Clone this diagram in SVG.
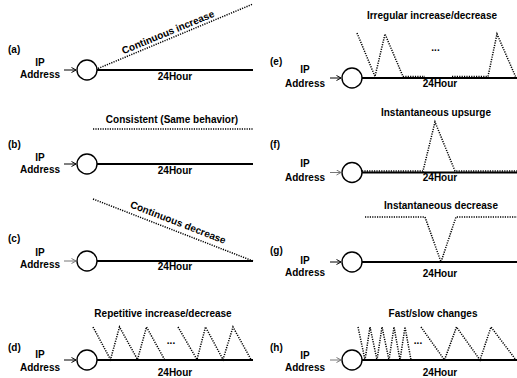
<svg xmlns="http://www.w3.org/2000/svg" width="517" height="378" viewBox="0 0 517 378">
<defs>
<style>
text{font-family:"Liberation Sans",Arial,sans-serif;font-weight:bold;font-size:10px;fill:#000}
.m{text-anchor:middle}
.node{fill:#fff;stroke:#000;stroke-width:1.4}
.tl{stroke:#000;stroke-width:1.8;fill:none}
.dot{stroke:#000;stroke-width:1.5;stroke-dasharray:1.2 1.2;fill:none}
.ar{stroke:#000;stroke-width:1;fill:none}
.ar.g{stroke:#777}
</style>
<marker id="ah" markerWidth="6" markerHeight="6" refX="5" refY="3" orient="auto" markerUnits="userSpaceOnUse">
<path d="M0.5,0.5 L5,3 L0.5,5.5" fill="none" stroke="#000" stroke-width="1"/>
</marker>
<marker id="ahg" markerWidth="6" markerHeight="6" refX="5" refY="3" orient="auto" markerUnits="userSpaceOnUse">
<path d="M0.5,0.5 L5,3 L0.5,5.5" fill="none" stroke="#777" stroke-width="1"/>
</marker>
</defs>

<g id="connectors">
<line class="ar" x1="64" y1="70" x2="76" y2="70" marker-end="url(#ah)"/>
<line class="tl" x1="97" y1="70" x2="253" y2="70"/>
<line class="ar" x1="64" y1="164" x2="76" y2="164" marker-end="url(#ah)"/>
<line class="tl" x1="97" y1="164" x2="253" y2="164"/>
<line class="ar g" x1="64" y1="261" x2="76" y2="261" marker-end="url(#ahg)"/>
<line class="tl" x1="97" y1="261" x2="253" y2="261"/>
<line class="ar" x1="64" y1="360" x2="76" y2="360" marker-end="url(#ah)"/>
<line class="tl" x1="97" y1="360" x2="253" y2="360"/>
<line class="ar" x1="330" y1="78" x2="341" y2="78" marker-end="url(#ah)"/>
<line class="tl" x1="362" y1="78" x2="517" y2="78"/>
<line class="ar g" x1="330" y1="172.5" x2="341" y2="172.5" marker-end="url(#ahg)"/>
<line class="tl" x1="362" y1="172.5" x2="517" y2="172.5"/>
<line class="ar" x1="330" y1="262" x2="341" y2="262" marker-end="url(#ah)"/>
<line class="tl" x1="362" y1="262" x2="517" y2="262"/>
<line class="ar g" x1="330" y1="360" x2="341" y2="360" marker-end="url(#ahg)"/>
<line class="tl" x1="362" y1="360" x2="517" y2="360"/>
</g>

<g id="panel-a">
<text x="8" y="53">(a)</text>
<text class="m" x="40" y="66">IP</text>
<text class="m" x="40" y="78">Address</text>
<circle class="node" cx="87" cy="70" r="10"/>
<text class="m" x="175" y="80">24Hour</text>
<line class="dot" x1="98" y1="68.5" x2="253" y2="4"/>
<text class="m" transform="translate(169.3,35.3) rotate(-22.4)">Continuous increase</text>
</g>

<g id="panel-b">
<text x="8" y="148">(b)</text>
<text class="m" x="40" y="161">IP</text>
<text class="m" x="40" y="173">Address</text>
<circle class="node" cx="87" cy="164" r="10"/>
<text class="m" x="175" y="174">24Hour</text>
<line class="dot" x1="93" y1="129" x2="253" y2="129"/>
<text class="m" x="172" y="123">Consistent (Same behavior)</text>
</g>

<g id="panel-c">
<text x="8" y="242">(c)</text>
<text class="m" x="40" y="256">IP</text>
<text class="m" x="40" y="268">Address</text>
<circle class="node" cx="87" cy="261" r="10"/>
<text class="m" x="175" y="270">24Hour</text>
<line class="dot" x1="93" y1="199" x2="253" y2="261"/>
<text class="m" transform="translate(176.8,225.6) rotate(21.2)">Continuous decrease</text>
</g>

<g id="panel-d">
<text x="8" y="351">(d)</text>
<text class="m" x="40" y="358">IP</text>
<text class="m" x="40" y="371">Address</text>
<circle class="node" cx="87" cy="360" r="10"/>
<text class="m" x="175" y="376">24Hour</text>
<text class="m" x="163" y="317">Repetitive increase/decrease</text>
<polyline class="dot" points="93,327 110.5,359.5 119.5,327 137.5,359.5 146.5,327 164.5,359.5"/>
<polyline class="dot" points="178,327 197,359.5 205.5,327 223,359.5 233,327 251,359.5"/>
<text class="m" x="171" y="344">...</text>
</g>

<g id="panel-e">
<text x="270" y="65">(e)</text>
<text class="m" x="305" y="73">IP</text>
<text class="m" x="305" y="87">Address</text>
<circle class="node" cx="352" cy="78" r="10"/>
<text class="m" x="440" y="87">24Hour</text>
<text class="m" x="432" y="19">Irregular increase/decrease</text>
<polyline class="dot" points="357,33 375,76.5 385,34 403,76.5 425,76.5"/>
<polyline class="dot" points="452,76.5 488,76.5 497,34 515.5,76.5"/>
<text class="m" x="435.5" y="51">...</text>
</g>

<g id="panel-f">
<text x="270" y="148">(f)</text>
<text class="m" x="305" y="167">IP</text>
<text class="m" x="305" y="181">Address</text>
<circle class="node" cx="352" cy="172.5" r="10"/>
<text class="m" x="440" y="181">24Hour</text>
<text class="m" x="436" y="116">Instantaneous upsurge</text>
<polyline class="dot" points="362,171 423,171 435,122 455,171 517,171"/>
</g>

<g id="panel-g">
<text x="270" y="254">(g)</text>
<text class="m" x="305" y="264">IP</text>
<text class="m" x="305" y="276">Address</text>
<circle class="node" cx="352" cy="262" r="10"/>
<text class="m" x="440" y="277">24Hour</text>
<text class="m" x="441" y="209">Instantaneous decrease</text>
<polyline class="dot" points="365,217 425,217 441,262 456,217 517,217"/>
</g>

<g id="panel-h">
<text x="270" y="351">(h)</text>
<text class="m" x="305" y="359">IP</text>
<text class="m" x="305" y="371">Address</text>
<circle class="node" cx="352" cy="360" r="10"/>
<text class="m" x="440" y="376">24Hour</text>
<text class="m" x="433" y="317">Fast/slow changes</text>
<polyline class="dot" points="358,327 365,360 370,327 377,360 382,327 389,360 394,327 400,360 405,327 411,360"/>
<polyline class="dot" points="421,327 444.5,360 456.5,327 480,360 491,327 516,360"/>
<text class="m" x="418" y="344">...</text>
</g>
</svg>
